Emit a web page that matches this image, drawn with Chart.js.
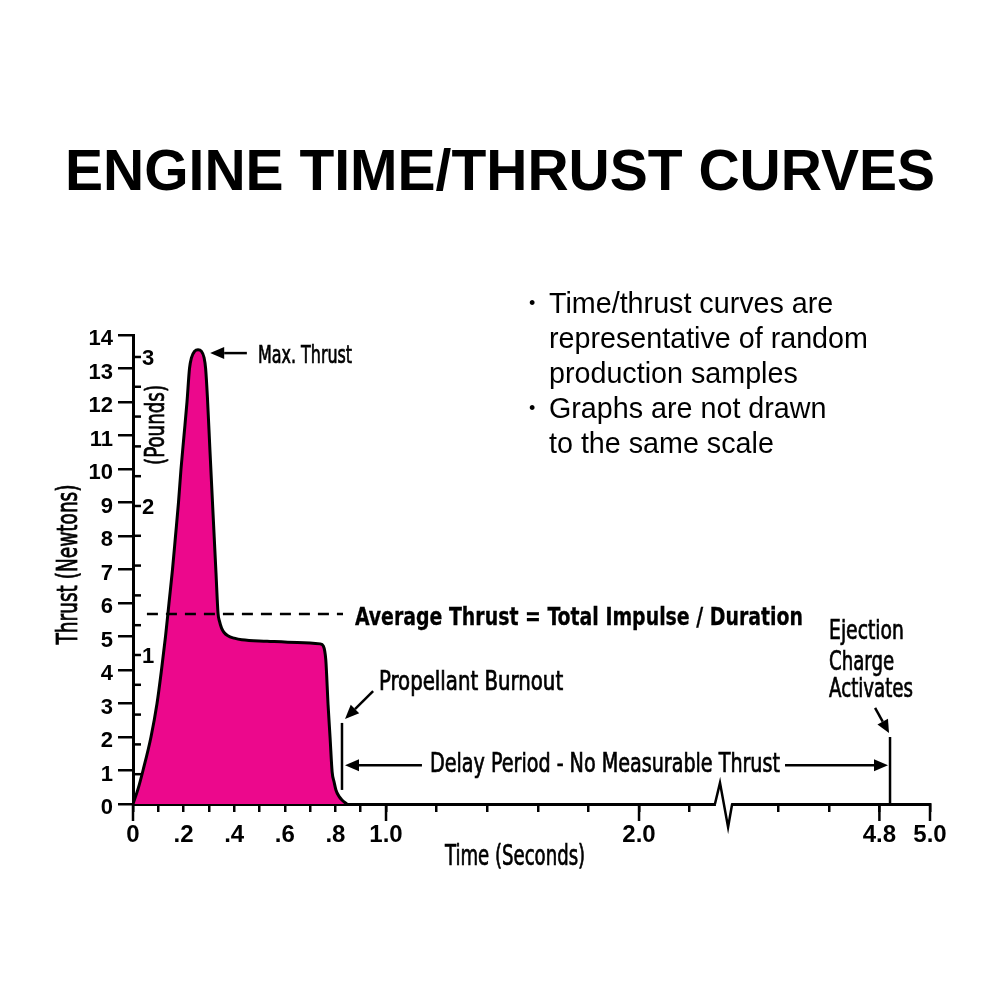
<!DOCTYPE html>
<html>
<head>
<meta charset="utf-8">
<script src="https://cdn.jsdelivr.net/npm/chart.js@4.4.0/dist/chart.umd.min.js"></script>
<style>
html,body{margin:0;padding:0;background:#fff;}
#wrap{width:1000px;height:1000px;position:relative;}
</style>
</head>
<body>
<div id="wrap"><canvas id="c" width="1000" height="1000"></canvas></div>
<script>
// ---------------- DATA ----------------
const titleText = 'ENGINE TIME/THRUST CURVES';

// burn curve: time (s) and thrust (N)
const burnTimes  = [0, 0.02, 0.0395, 0.0711, 0.0949, 0.1126, 0.1285, 0.1423, 0.1561, 0.168, 0.1798, 0.1897, 0.2016, 0.2134, 0.2233, 0.231, 0.244, 0.257, 0.27, 0.281, 0.287, 0.294, 0.304, 0.315, 0.328, 0.336, 0.342, 0.35, 0.36, 0.375, 0.40, 0.43, 0.53, 0.65, 0.74, 0.752, 0.762, 0.771, 0.779, 0.787, 0.795, 0.802, 0.815, 0.826, 0.845];
const burnThrust = [0, 0.45, 1, 2, 3, 4, 5, 6, 7, 8, 9, 10, 11, 12, 13, 13.32, 13.52, 13.56, 13.52, 13.32, 13.0, 12.16, 10.57, 8.87, 6.9, 5.7, 5.45, 5.25, 5.12, 5.02, 4.95, 4.9, 4.86, 4.82, 4.78, 4.72, 4.3, 2.96, 1.97, 0.96, 0.65, 0.42, 0.22, 0.12, 0];

const averageThrust = 5.67;          // N
const averageStart = 0.055, averageEnd = 0.83;   // s
const burnoutMarkTime = 0.826;       // s
const burnoutMarkRange = [0.42, 2.42];
const ejectionTime = 4.842;          // s
const ejectionMarkRange = [0, 2.0];

// x axis (seconds) with a break between 2.2 and 4.4
const xTickTimes  = [0, 0.1, 0.2, 0.3, 0.4, 0.5, 0.6, 0.7, 0.8, 0.9, 1.0, 1.2, 1.4, 1.6, 1.8, 2.0, 2.2, 4.4, 4.6, 4.8, 5.0];
const xTickText   = ['0', '', '.2', '', '.4', '', '.6', '', '.8', '', '1.0', '', '', '', '', '2.0', '', '', '', '4.8', '5.0'];
const xLongTicks  = [0, 1.0, 2.0, 4.8, 5.0];
const breakFrom = 3.0, breakShift = 1.85;      // times after the break are drawn shifted left
const xMaxTime = 5.0;

// y axis: Newtons (left) and Pounds (right side ticks)
const yMinN = 0, yMaxN = 14;
const newtonsPerPound = 4.448;
const poundTicks  = [0.2, 0.4, 0.6, 0.8, 1.0, 1.2, 1.4, 1.6, 1.8, 2.0, 2.2, 2.4, 2.6, 2.8, 3.0];
const poundLabels = [1, 2, 3];

const notes = [
  {bullet: true,  text: 'Time/thrust curves are'},
  {bullet: false, text: 'representative of random'},
  {bullet: false, text: 'production samples'},
  {bullet: true,  text: 'Graphs are not drawn'},
  {bullet: false, text: 'to the same scale'}
];

// ---------------- HELPERS ----------------
const toAxis = t => (t > breakFrom ? t - breakShift : t);
const NARROW = '"Liberation Sans Narrow","DejaVu Sans Condensed","Arial Narrow",sans-serif';
const SANS = '"Liberation Sans",Arial,Helvetica,sans-serif';

function fitText(ctx, text, x, y, width, font, rotate, heavy) {
  ctx.save();
  ctx.font = font;
  ctx.textAlign = 'left';
  ctx.textBaseline = 'alphabetic';
  const w = ctx.measureText(text).width;
  ctx.translate(x, y);
  if (rotate) ctx.rotate(rotate);
  ctx.scale(width / w, 1);
  ctx.fillText(text, 0, 0);
  if (heavy) { ctx.lineWidth = heavy; ctx.strokeText(text, 0, 0); }
  ctx.restore();
}
function seg(ctx, x1, y1, x2, y2) {
  ctx.beginPath(); ctx.moveTo(x1, y1); ctx.lineTo(x2, y2); ctx.stroke();
}
function arrow(ctx, x1, y1, x2, y2, len, half) {
  len = len || 14; half = half || 6;
  const a = Math.atan2(y2 - y1, x2 - x1);
  const bx = x2 - len * Math.cos(a), by = y2 - len * Math.sin(a);
  seg(ctx, x1, y1, bx, by);
  ctx.beginPath();
  ctx.moveTo(x2, y2);
  ctx.lineTo(bx + half * Math.sin(a), by - half * Math.cos(a));
  ctx.lineTo(bx - half * Math.sin(a), by + half * Math.cos(a));
  ctx.closePath(); ctx.fill();
}

// ---------------- OVERLAY PLUGIN ----------------
const overlay = {
  id: 'overlay',
  afterDraw(chart) {
    const ctx = chart.ctx;
    const xs = chart.scales.x, ys = chart.scales.y;
    const X = d => xs.getPixelForValue(d);       // axis units
    const Y = v => ys.getPixelForValue(v);
    const y0 = Y(0);
    ctx.save();
    ctx.strokeStyle = '#000'; ctx.fillStyle = '#000';

    // long x ticks
    ctx.lineWidth = 2.5;
    xLongTicks.forEach(t => { const px = X(toAxis(t)); seg(ctx, px, y0, px, y0 + 17); });

    // pound ticks (right of the y axis)
    const ax = xs.left;
    poundTicks.forEach(lb => { const py = Y(lb * newtonsPerPound); seg(ctx, ax, py, ax + 8, py); });
    ctx.font = 'bold 22px ' + SANS;
    ctx.textAlign = 'left'; ctx.textBaseline = 'middle';
    poundLabels.forEach(lb => ctx.fillText(String(lb), ax + 9, Y(lb * newtonsPerPound) + 2));

    // axis break zigzag
    const b1 = X(2.300), b2 = X(2.320), b3 = X(2.352), b4 = X(2.368);
    ctx.save();
    ctx.strokeStyle = '#fff'; ctx.lineWidth = 6;
    seg(ctx, b1 + 1, y0, b4 - 1, y0);
    ctx.restore();
    ctx.lineWidth = 2.5; ctx.lineJoin = 'miter';
    ctx.beginPath();
    ctx.moveTo(b1, y0); ctx.lineTo(b2, Y(0.63)); ctx.lineTo(b3, Y(-0.69)); ctx.lineTo(b4, y0);
    ctx.stroke();

    // arrows
    ctx.lineWidth = 2.5;
    arrow(ctx, X(0.45), Y(13.46), X(0.305), Y(13.46));       // max thrust
    arrow(ctx, X(0.949), Y(3.37), X(0.838), Y(2.54), 14, 6);  // burnout
    arrow(ctx, X(1.142), Y(1.16), X(0.838), Y(1.16));        // delay left
    arrow(ctx, X(2.577), Y(1.16), X(2.984), Y(1.16));        // delay right
    arrow(ctx, X(2.933), Y(2.87), X(2.988), Y(2.12), 13, 6);  // ejection

    // annotation texts
    const nf = s => s + 'px ' + NARROW;
    fitText(ctx, 'Max. Thrust', X(0.494), Y(13.16), X(0.866) - X(0.494), nf(25), 0, 0.7);
    fitText(ctx, 'Average Thrust = Total Impulse / Duration', X(0.877), Y(5.34), X(2.648) - X(0.877), 'bold ' + nf(25), 0, 0.3);
    fitText(ctx, 'Propellant Burnout', X(0.972), Y(3.40), X(1.700) - X(0.972), nf(26), 0, 0.7);
    fitText(ctx, 'Delay Period - No Measurable Thrust', X(1.174), Y(0.955), X(2.557) - X(1.174), nf(27), 0, 0.7);
    fitText(ctx, 'Ejection', X(2.751), Y(4.93), X(3.047) - X(2.751), nf(27), 0, 0.7);
    fitText(ctx, 'Charge', X(2.751), Y(4.00), X(3.008) - X(2.751), nf(27), 0, 0.7);
    fitText(ctx, 'Activates', X(2.751), Y(3.19), X(3.083) - X(2.751), nf(27), 0, 0.7);

    // axis titles
    fitText(ctx, 'Time (Seconds)', X(1.233), Y(-1.82), X(1.787) - X(1.233), nf(28), 0, 0.7);
    fitText(ctx, 'Thrust (Newtons)', ax - 56, Y(5.0) + 8, 160, nf(28), -Math.PI / 2, 0.8);
    fitText(ctx, '(Pounds)', ax + 31, Y(10.12), 80, nf(27), -Math.PI / 2, 0.7);

    // notes
    ctx.font = '28.7px ' + SANS;
    ctx.textAlign = 'left'; ctx.textBaseline = 'alphabetic';
    notes.forEach((n, i) => {
      const by = 313 + i * 35;
      if (n.bullet) {
        ctx.save(); ctx.font = '18px ' + SANS; ctx.fillText('\u2022', 529, by - 4); ctx.restore();
      }
      ctx.fillText(n.text, 549, by);
    });
    ctx.restore();
  }
};

// ---------------- CHART ----------------
const curve = burnTimes.map((t, i) => ({x: toAxis(t), y: burnThrust[i]}));

new Chart(document.getElementById('c'), {
  type: 'line',
  data: {
    datasets: [
      {
        label: 'Average Thrust',
        data: [{x: toAxis(averageStart), y: averageThrust}, {x: toAxis(averageEnd), y: averageThrust}],
        borderColor: '#000', borderWidth: 2.5, borderDash: [11, 8],
        pointRadius: 0, fill: false, order: 0
      },
      {
        label: 'Burnout',
        data: [{x: toAxis(burnoutMarkTime), y: burnoutMarkRange[0]}, {x: toAxis(burnoutMarkTime), y: burnoutMarkRange[1]}],
        borderColor: '#000', borderWidth: 2.5, pointRadius: 0, fill: false, order: 1
      },
      {
        label: 'Ejection',
        data: [{x: toAxis(ejectionTime), y: ejectionMarkRange[0]}, {x: toAxis(ejectionTime), y: ejectionMarkRange[1]}],
        borderColor: '#000', borderWidth: 2.5, pointRadius: 0, fill: false, order: 2
      },
      {
        label: 'Thrust',
        data: curve,
        borderColor: '#000', borderWidth: 3,
        backgroundColor: '#EC088C',
        fill: 'origin', pointRadius: 0,
        cubicInterpolationMode: 'monotone',
        order: 3
      }
    ]
  },
  options: {
    responsive: false,
    animation: false,
    events: [],
    layout: {padding: {left: 0, right: 0, top: 0, bottom: 0}},
    plugins: {
      legend: {display: false},
      tooltip: {enabled: false},
      title: {
        display: true, text: titleText, color: '#000',
        font: {family: SANS, size: 57, weight: 'bold', lineHeight: 1},
        padding: {top: 146, bottom: 132}
      }
    },
    scales: {
      x: {
        type: 'linear', min: 0, max: toAxis(xMaxTime),
        afterBuildTicks: s => { s.ticks = xTickTimes.map(t => ({value: toAxis(t)})); },
        afterFit: s => { s.height = 196; },
        ticks: {
          autoSkip: false, maxRotation: 0, padding: 9, color: '#000',
          font: {family: SANS, size: 24, weight: 'bold'},
          callback: (v, i) => xTickText[i]
        },
        grid: {display: true, drawOnChartArea: false, drawTicks: true, tickLength: 8, color: '#000', lineWidth: 2.5},
        border: {display: true, color: '#000', width: 3}
      },
      y: {
        type: 'linear', min: yMinN, max: yMaxN,
        afterFit: s => { s.width = 133; },
        ticks: {
          stepSize: 1, padding: 5, color: '#000', labelOffset: 4,
          font: {family: SANS, size: 22, weight: 'bold'}
        },
        grid: {display: true, drawOnChartArea: false, drawTicks: true, tickLength: 15, color: '#000', lineWidth: 2.5},
        border: {display: true, color: '#000', width: 3}
      },
      yRight: {
        type: 'linear', position: 'right', min: yMinN, max: yMaxN,
        afterFit: s => { s.width = 70; },
        ticks: {display: false},
        grid: {display: false},
        border: {display: false}
      }
    }
  },
  plugins: [overlay]
});
</script>
</body>
</html>
